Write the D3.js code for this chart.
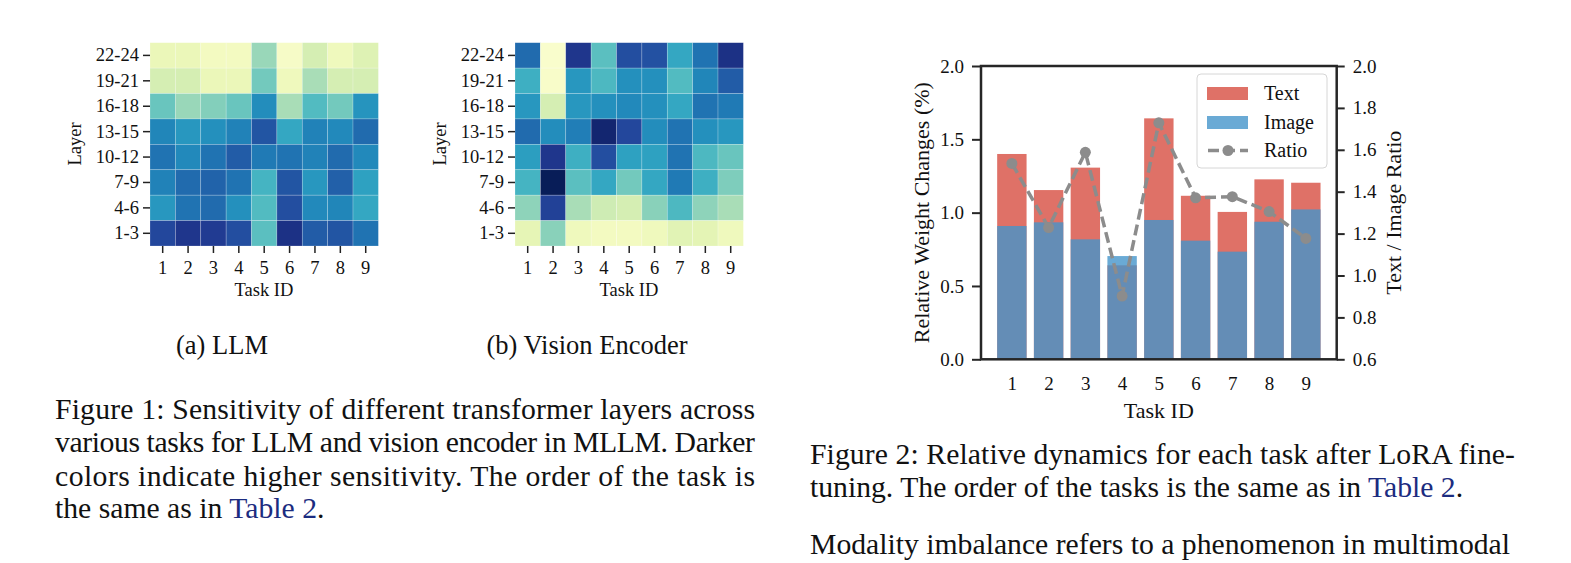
<!DOCTYPE html>
<html>
<head>
<meta charset="utf-8">
<script src="https://cdn.jsdelivr.net/npm/d3@7"></script>
<style>
  html, body { margin: 0; padding: 0; background: #fff; }
  svg { display: block; }
  svg text { font-family: "Liberation Serif", "Times New Roman", Times, "Nimbus Roman", serif; fill: #111; }
</style>
</head>
<body>
<svg id="chart" width="1571" height="563"></svg>
<script>
// ---------------- DATA ----------------
const tasks = ["1", "2", "3", "4", "5", "6", "7", "8", "9"];
const layers = ["22-24", "19-21", "16-18", "13-15", "10-12", "7-9", "4-6", "1-3"];

// Sensitivity (colormap position 0..1), rows = layers (top to bottom), cols = tasks
const llmRow2224 = [0.12, 0.12, 0.08, 0.08, 0.33, 0.06, 0.20, 0.10, 0.17];
const llmRow1921 = [0.20, 0.20, 0.12, 0.12, 0.40, 0.10, 0.30, 0.20, 0.20];
const llmRow1618 = [0.42, 0.33, 0.37, 0.42, 0.63, 0.30, 0.47, 0.40, 0.61];
const llmRow1315 = [0.65, 0.60, 0.62, 0.66, 0.78, 0.55, 0.66, 0.64, 0.72];
const llmRow1012 = [0.70, 0.64, 0.70, 0.76, 0.68, 0.70, 0.66, 0.72, 0.64];
const llmRow0709 = [0.66, 0.72, 0.74, 0.70, 0.50, 0.78, 0.60, 0.75, 0.57];
const llmRow0406 = [0.60, 0.70, 0.72, 0.62, 0.47, 0.80, 0.64, 0.65, 0.55];
const llmRow0103 = [0.82, 0.88, 0.86, 0.80, 0.45, 0.90, 0.76, 0.78, 0.70];
const llmValues = [llmRow2224, llmRow1921, llmRow1618, llmRow1315, llmRow1012, llmRow0709, llmRow0406, llmRow0103];

const visRow2224 = [0.72, 0.04, 0.88, 0.45, 0.80, 0.79, 0.55, 0.70, 0.90];
const visRow1921 = [0.52, 0.05, 0.60, 0.48, 0.62, 0.62, 0.47, 0.65, 0.76];
const visRow1618 = [0.60, 0.20, 0.60, 0.62, 0.64, 0.62, 0.55, 0.70, 0.68];
const visRow1315 = [0.72, 0.63, 0.67, 0.95, 0.82, 0.63, 0.70, 0.62, 0.60];
const visRow1012 = [0.58, 0.88, 0.52, 0.80, 0.57, 0.57, 0.70, 0.48, 0.42];
const visRow0709 = [0.50, 1.00, 0.45, 0.55, 0.40, 0.55, 0.68, 0.52, 0.38];
const visRow0406 = [0.35, 0.84, 0.30, 0.22, 0.20, 0.36, 0.48, 0.35, 0.30];
const visRow0103 = [0.14, 0.36, 0.10, 0.08, 0.08, 0.10, 0.16, 0.15, 0.10];
const visValues = [visRow2224, visRow1921, visRow1618, visRow1315, visRow1012, visRow0709, visRow0406, visRow0103];

// Figure 2 data
const taskIds = [1, 2, 3, 4, 5, 6, 7, 8, 9];
const textChange = [1.400, 1.154, 1.307, 0.641, 1.643, 1.115, 1.005, 1.227, 1.204];
const imageChange = [0.909, 0.934, 0.818, 0.704, 0.950, 0.809, 0.734, 0.938, 1.022];
const ratioValues = [1.535, 1.229, 1.588, 0.902, 1.729, 1.371, 1.376, 1.305, 1.177];
const leftTicks = [0.0, 0.5, 1.0, 1.5, 2.0];
const rightTicks = [0.6, 0.8, 1.0, 1.2, 1.4, 1.6, 1.8, 2.0];
const legendLabels = ["Text", "Image", "Ratio"];

// ---------------- DRAW ----------------
const FONT = '"Liberation Serif", "Times New Roman", Times, "Nimbus Roman", serif';
const svg = d3.select("#chart");
const color = d3.scaleSequential(d3.interpolateYlGnBu).domain([0, 1]);

function heatmap(x0, values) {
  const x = d3.scaleBand().domain(tasks).range([x0, x0 + 228.4]);
  const y = d3.scaleBand().domain(layers).range([42.7, 246]);
  const g = svg.append("g");
  layers.forEach((L, i) => {
    tasks.forEach((t, j) => {
      g.append("rect")
        .attr("x", x(t)).attr("y", y(L))
        .attr("width", x.bandwidth()).attr("height", y.bandwidth())
        .attr("fill", color(values[i][j]))
        .attr("stroke", "rgba(255,255,255,0.35)").attr("stroke-width", 0.6);
    });
  });
  const ya = g.append("g").attr("transform", `translate(${x0},0)`)
    .call(d3.axisLeft(y).tickSize(7).tickPadding(4));
  const xa = g.append("g").attr("transform", `translate(0,246)`)
    .call(d3.axisBottom(x).tickSize(7).tickPadding(8));
  [ya, xa].forEach(a => {
    a.select(".domain").remove();
    a.selectAll("line").attr("stroke", "#222").attr("stroke-width", 1.5);
    a.selectAll("text").style("font-family", FONT).style("font-size", "18.5px").attr("fill", "#111");
  });
  g.append("text").attr("x", x0 + 114).attr("y", 296).attr("text-anchor", "middle")
    .style("font-size", "18.5px").text("Task ID");
  g.append("text").attr("transform", `translate(${x0 - 69},144) rotate(-90)`)
    .attr("text-anchor", "middle").style("font-size", "18.5px").text("Layer");
}
heatmap(150, llmValues);
heatmap(515, visValues);
svg.append("text").attr("x", 222).attr("y", 354).attr("text-anchor", "middle").style("font-size", "26.5px").text("(a) LLM");
svg.append("text").attr("x", 587).attr("y", 354).attr("text-anchor", "middle").style("font-size", "26.5px").text("(b) Vision Encoder");

// ---- Figure 2 bar chart ----
const L = 981, R = 1336.7, T = 66, B = 359.3;
const xs = d3.scaleLinear().domain([0.16, 9.84]).range([L, R]);
const yl = d3.scaleLinear().domain([0, 2]).range([B, T]);
const yr = d3.scaleLinear().domain([0.6, 2.0]).range([B, T]);
const bw = xs(0.8) - xs(0);
const textFill = "rgb(215,78,65)", imageFill = "rgb(69,149,202)";

const bars = svg.append("g");
bars.selectAll(".tb").data(taskIds).join("rect")
  .attr("x", d => xs(d) - bw / 2).attr("width", bw)
  .attr("y", (d, i) => yl(textChange[i])).attr("height", (d, i) => B - yl(textChange[i]))
  .attr("fill", textFill).attr("fill-opacity", 0.8);
bars.selectAll(".ib").data(taskIds).join("rect")
  .attr("x", d => xs(d) - bw / 2).attr("width", bw)
  .attr("y", (d, i) => yl(imageChange[i])).attr("height", (d, i) => B - yl(imageChange[i]))
  .attr("fill", imageFill).attr("fill-opacity", 0.8);

const line = d3.line().x((d, i) => xs(taskIds[i])).y(d => yr(d));
svg.append("path").datum(ratioValues).attr("d", line)
  .attr("fill", "none").attr("stroke", "#8c8c8c").attr("stroke-width", 3.5)
  .attr("stroke-dasharray", "11,5");
svg.selectAll(".pt").data(ratioValues).join("circle")
  .attr("cx", (d, i) => xs(taskIds[i])).attr("cy", d => yr(d)).attr("r", 5.5).attr("fill", "#8c8c8c");

// axes
const la = svg.append("g").attr("transform", `translate(${L},0)`)
  .call(d3.axisLeft(yl).tickValues(leftTicks).tickFormat(d3.format(".1f")).tickSize(9).tickPadding(8));
const ra = svg.append("g").attr("transform", `translate(${R},0)`)
  .call(d3.axisRight(yr).tickValues(rightTicks).tickFormat(d3.format(".1f")).tickSize(8).tickPadding(8));
const ba = svg.append("g").attr("transform", `translate(0,${B})`)
  .call(d3.axisBottom(xs).tickValues(taskIds).tickFormat(d3.format("d")).tickSize(0).tickPadding(17));
[la, ra, ba].forEach(a => {
  a.select(".domain").remove();
  a.selectAll("line").attr("stroke", "#262626").attr("stroke-width", 2);
  a.selectAll("text").style("font-family", FONT).style("font-size", "19px").attr("fill", "#111");
});
svg.append("rect").attr("x", L).attr("y", T).attr("width", R - L).attr("height", B - T)
  .attr("fill", "none").attr("stroke", "#262626").attr("stroke-width", 2.5);

svg.append("text").attr("transform", `translate(921,${(T + B) / 2}) rotate(-90)`)
  .attr("text-anchor", "middle").attr("dy", "0.35em").style("font-size", "22px").text("Relative Weight Changes (%)");
svg.append("text").attr("transform", `translate(1393,${(T + B) / 2}) rotate(-90)`)
  .attr("text-anchor", "middle").attr("dy", "0.35em").style("font-size", "22px").text("Text / Image Ratio");
svg.append("text").attr("x", (L + R) / 2).attr("y", 418).attr("text-anchor", "middle")
  .style("font-size", "22px").text("Task ID");

// legend
const lg = svg.append("g");
lg.append("rect").attr("x", 1197).attr("y", 74).attr("width", 130).attr("height", 94).attr("rx", 4)
  .attr("fill", "#fff").attr("fill-opacity", 0.8).attr("stroke", "#d6d6d6").attr("stroke-width", 1);
lg.append("rect").attr("x", 1207).attr("y", 87).attr("width", 41).attr("height", 13)
  .attr("fill", textFill).attr("fill-opacity", 0.8);
lg.append("rect").attr("x", 1207).attr("y", 116).attr("width", 41).attr("height", 13)
  .attr("fill", imageFill).attr("fill-opacity", 0.8);
lg.append("line").attr("x1", 1207).attr("x2", 1248).attr("y1", 150.5).attr("y2", 150.5)
  .attr("stroke", "#8c8c8c").attr("stroke-width", 3.5).attr("stroke-dasharray", "11,5").attr("stroke-dashoffset", -1);
lg.append("circle").attr("cx", 1228).attr("cy", 150.5).attr("r", 5.5).attr("fill", "#8c8c8c");
legendLabels.forEach((t, i) => {
  lg.append("text").attr("x", 1264).attr("y", 100 + i * 28.5).style("font-size", "20px").text(t);
});

// captions
const linkColor = "#1c2c80";
function capLine(x, y, str, len, linkAfter) {
  const t = svg.append("text").attr("x", x).attr("y", y).style("font-size", "29.7px");
  if (len) t.attr("textLength", len).attr("lengthAdjust", "spacing");
  t.append("tspan").text(str);
  if (linkAfter) {
    t.append("tspan").attr("fill", linkColor).style("fill", linkColor).text("Table 2");
    t.append("tspan").text(".");
  }
}
capLine(55, 419, "Figure 1: Sensitivity of different transformer layers across", 700);
capLine(55, 452, "various tasks for LLM and vision encoder in MLLM. Darker", 700);
capLine(55, 486, "colors indicate higher sensitivity.  The order of the task is", 700);
capLine(55, 518, "the same as in ", null, true);
capLine(810, 464, "Figure 2: Relative dynamics for each task after LoRA fine-", 705);
capLine(810, 497, "tuning. The order of the tasks is the same as in ", null, true);
capLine(810, 554, "Modality imbalance refers to a phenomenon in multimodal", 700);
</script>
</body>
</html>
